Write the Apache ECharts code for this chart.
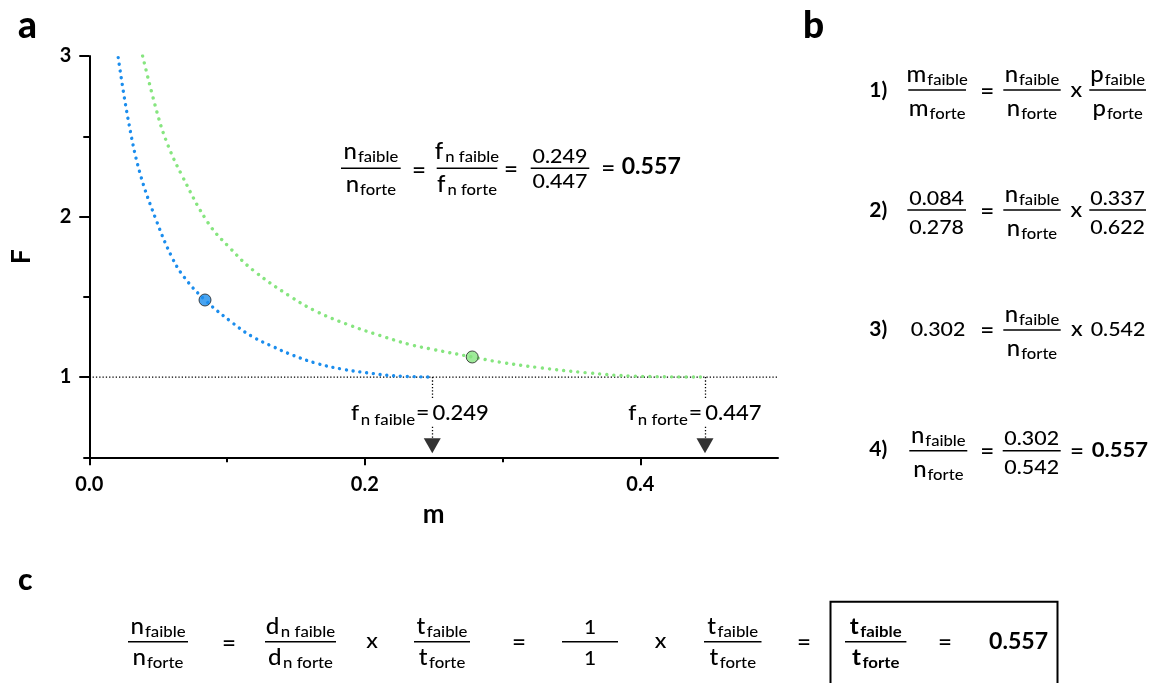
<!DOCTYPE html>
<html>
<head>
<meta charset="utf-8">
<script src="https://cdn.jsdelivr.net/npm/echarts@6/dist/echarts.min.js"></script>
<style>
  html, body { margin: 0; padding: 0; background: #fff; }
  #chart { width: 1155px; height: 683px; }
</style>
</head>
<body>
<div id="chart"></div>
<script>
// ---- Data ------------------------------------------------------------------
// Relative fitness F as a function of m, weak (faible) and strong (forte) allele
const curveFaible = [
  [0.021, 2.99], [0.0283, 2.60], [0.0368, 2.27], [0.0489, 1.97], [0.0598, 1.75],
  [0.0687, 1.624], [0.084, 1.48], [0.1045, 1.334], [0.1185, 1.251], [0.1335, 1.189],
  [0.148, 1.135], [0.165, 1.085], [0.1843, 1.048], [0.2012, 1.027], [0.2205, 1.008],
  [0.249, 1.0]
];
const curveForte = [
  [0.0387, 3.0], [0.0501, 2.62], [0.0573, 2.44], [0.067, 2.26], [0.0863, 1.96],
  [0.1021, 1.804], [0.119, 1.665], [0.1456, 1.504], [0.165, 1.408], [0.1867, 1.33],
  [0.2109, 1.259], [0.2326, 1.203], [0.2496, 1.172], [0.278, 1.125], [0.2979, 1.093],
  [0.327, 1.058], [0.3608, 1.027], [0.3946, 1.006], [0.447, 1.0]
];
const fnFaible = 0.249, fnForte = 0.447;      // F = 1 crossings
const mFaible = 0.084, mForte = 0.278;        // observed m
const pFaible = 0.337, pForte = 0.622;
const mRatio = 0.302, pRatio = 0.542, nRatio = 0.557;
const pointFaible = [mFaible, 1.48];
const pointForte = [mForte, 1.125];
const xTicksMajor = [0, 0.2, 0.4], xTicksMinor = [0.1, 0.3];
const yTicksMajor = [1, 2, 3], yTicksMinor = [0.5, 1.5, 2.5];

// ---- Styling -------------------------------------------------------------
const FAM = 'Lato, "Open Sans", sans-serif';
const BLUE = '#1b8ded', GREEN = '#86e57f';
const REG = 500;
const EQ = 23;                                 // size of "=" signs
const DROP_TOP = 0.869, GAP_TOP = 0.691, GAP_BOT = 0.620, ARROW_Y = 0.572;
const fmt = v => v.toFixed(3);

// ---- Text layout helpers (fractions, subscripts) ---------------------------
const ctx = document.createElement('canvas').getContext('2d');
function fnt(size, weight) { return weight + ' ' + size + 'px ' + FAM; }
function textW(t, size, weight) { ctx.font = fnt(size, weight); return ctx.measureText(t).width; }
function vMetrics(t, size, weight) {
  ctx.font = fnt(size, weight); ctx.textBaseline = 'middle';
  const m = ctx.measureText(t); ctx.textBaseline = 'alphabetic';
  return m;
}
function baseOff(size, weight) { return vMetrics('H', size, weight).actualBoundingBoxDescent; }

const G = [];
function piece(t, x, baseline, size, weight, sx) {
  G.push({
    type: 'text', x: x, y: baseline - baseOff(size, weight), scaleX: sx || 1, silent: true,
    style: { text: t, x: 0, y: 0, fontSize: size, fontWeight: weight, fontFamily: FAM,
             fill: '#000', align: 'left', verticalAlign: 'middle' }
  });
}
function runWidth(tokens, st) {
  let w = 0;
  tokens.forEach(tk => { const r = st[tk[1]]; w += (tk[2] || 0) + textW(tk[0], r.size, r.weight) * (r.sx || st.sx); });
  return w;
}
function drawRun(tokens, left, baseline, st) {
  let x = left;
  tokens.forEach(tk => {
    const r = st[tk[1]], sx = r.sx || st.sx;
    x += (tk[2] || 0);
    piece(tk[0], x, baseline + (r.dy || 0), r.size, r.weight, sx);
    x += textW(tk[0], r.size, r.weight) * sx;
  });
  return x;
}
function bar(x0, x1, y, w) {
  G.push({ type: 'line', silent: true, shape: { x1: x0, y1: y, x2: x1, y2: y },
           style: { stroke: '#000', lineWidth: w || 1.6 } });
}
function frac(x0, x1, y, num, den, st, kind) {
  bar(x0, x1, y);
  const cx = (x0 + x1) / 2, k = st[kind];
  drawRun(num, cx - runWidth(num, st) / 2, y - k.up, st);
  drawRun(den, cx - runWidth(den, st) / 2, y + k.down, st);
}
function glyphCentered(t, cx, cy, size, weight, sx) {
  const m = vMetrics(t, size, weight);
  const off = (m.actualBoundingBoxDescent - m.actualBoundingBoxAscent) / 2;
  const w = textW(t, size, weight) * sx;
  G.push({
    type: 'text', x: cx - w / 2, y: cy - off, scaleX: sx, silent: true,
    style: { text: t, x: 0, y: 0, fontSize: size, fontWeight: weight, fontFamily: FAM,
             fill: '#000', align: 'left', verticalAlign: 'middle' }
  });
}
function centeredAt(t, cx, baseline, size, weight, sx) {
  const w = textW(t, size, weight) * sx;
  piece(t, cx - w / 2, baseline, size, weight, sx);
}

// typography sets
const stA = { sx: 1.04,
  m: { size: 23, weight: REG }, s: { size: 16, weight: REG, dy: 3 },
  d: { size: 19.5, weight: REG, sx: 1.1 },
  L: { up: 9.3, down: 24 }, D: { up: 5, down: 20 } };
const stB = { sx: 1.04,
  m: { size: 23, weight: REG }, s: { size: 16, weight: REG, dy: 3 },
  d: { size: 20, weight: REG, sx: 1.07 },
  L: { up: 8, down: 26 }, D: { up: 5.5, down: 23.5 } };
const stC = { sx: 1.05,
  m: { size: 23, weight: REG }, s: { size: 16, weight: REG, dy: 3 },
  d: { size: 20, weight: REG },
  M: { size: 23, weight: 'bold' }, S: { size: 16, weight: 'bold', dy: 3 },
  L: { up: 7.7, down: 23.3 } };
const stL = { sx: 1.05,
  m: { size: 22, weight: REG }, s: { size: 16, weight: REG, dy: 5 } };

const nFa = [['n', 'm'], ['faible', 's', 1]];
const nFo = [['n', 'm'], ['forte', 's', 1]];

// ---- Chart ---------------------------------------------------------------
const axisText = { fontFamily: FAM, fontWeight: 'bold', color: '#000' };
const chart = echarts.init(document.getElementById('chart'), null, { renderer: 'canvas' });
chart.setOption({
  animation: false,
  backgroundColor: '#fff',
  grid: { left: 89.3, top: 56, width: 688.7, height: 401.3, containLabel: false, outerBoundsMode: 'none' },
  xAxis: [
    { type: 'value', min: 0, max: 0.5, position: 'bottom',
      name: 'm', nameLocation: 'middle', nameGap: 44,
      nameTextStyle: Object.assign({ fontSize: 26 }, axisText),
      axisLine: { show: true, onZero: false, lineStyle: { color: '#000', width: 2 } },
      axisTick: { show: true, customValues: xTicksMajor, length: 8, lineStyle: { color: '#000', width: 2 } },
      axisLabel: Object.assign({ customValues: xTicksMajor, formatter: v => v.toFixed(1), margin: 17, fontSize: 20 }, axisText),
      splitLine: { show: false } },
    { type: 'value', min: 0, max: 0.5, position: 'bottom',
      axisLine: { show: false },
      axisTick: { show: true, customValues: xTicksMinor, length: 5, lineStyle: { color: '#000', width: 2 } },
      axisLabel: { show: false }, splitLine: { show: false } }
  ],
  yAxis: [
    { type: 'value', min: 0.5, max: 3, position: 'left',
      name: 'F', nameLocation: 'middle', nameRotate: 90, nameGap: 55,
      nameTextStyle: Object.assign({ fontSize: 26 }, axisText),
      axisLine: { show: true, onZero: false, lineStyle: { color: '#000', width: 2 } },
      axisTick: { show: true, customValues: yTicksMajor, length: 10, lineStyle: { color: '#000', width: 2 } },
      axisLabel: Object.assign({ customValues: yTicksMajor, formatter: v => String(v), margin: 18, fontSize: 20 }, axisText),
      splitLine: { show: false } },
    { type: 'value', min: 0.5, max: 3, position: 'left',
      axisLine: { show: false },
      axisTick: { show: true, customValues: yTicksMinor, length: 6, lineStyle: { color: '#000', width: 2 } },
      axisLabel: { show: false }, splitLine: { show: false } }
  ],
  series: [
    { type: 'line', data: [[0, 1], [0.5, 1]], symbol: 'none', silent: true, z: 1,
      lineStyle: { color: '#000', width: 1.3, type: [1.3, 2] } },
    { type: 'line', name: 'faible', data: curveFaible, smooth: 0.4,
      symbol: 'none', silent: true, z: 3,
      lineStyle: { color: BLUE, width: 3.4, type: [0.01, 6.8], cap: 'round' } },
    { type: 'line', name: 'forte', data: curveForte, smooth: 0.4,
      symbol: 'none', silent: true, z: 3,
      lineStyle: { color: GREEN, width: 3.4, type: [0.01, 7.2], cap: 'round' } },
    { type: 'lines', coordinateSystem: 'cartesian2d', silent: true, z: 2,
      lineStyle: { color: '#000', width: 1.3, type: [1.3, 2], opacity: 1 },
      data: [
        { coords: [[fnFaible, 1], [fnFaible, DROP_TOP]] },
        { coords: [[fnFaible, GAP_TOP], [fnFaible, GAP_BOT]] },
        { coords: [[fnForte, 1], [fnForte, DROP_TOP]] },
        { coords: [[fnForte, GAP_TOP], [fnForte, GAP_BOT]] }
      ] },
    { type: 'scatter', data: [[fnFaible, ARROW_Y], [fnForte, ARROW_Y]], symbol: 'triangle',
      symbolRotate: 180, symbolSize: [17, 15], silent: true, z: 4, itemStyle: { color: '#000' } },
    { type: 'scatter', data: [pointFaible], symbolSize: 12, silent: true, z: 5,
      itemStyle: { color: BLUE, borderColor: '#222', borderWidth: 1 } },
    { type: 'scatter', data: [pointForte], symbolSize: 12, silent: true, z: 5,
      itemStyle: { color: GREEN, borderColor: '#222', borderWidth: 1 } }
  ]
});

// ---- Panel letters -------------------------------------------------------
piece('a', 18, 37.5, 37, 900, 1);
piece('b', 803, 37.5, 37, 900, 1);
piece('c', 18, 589.5, 30, 900, 1);

// ---- Panel a: ratio equation ----------------------------------------------
frac(341, 400.7, 168.3, nFa, nFo, stA, 'L');
glyphCentered('=', 419, 169.5, EQ, REG, 1.05);
frac(436.7, 497.3, 168.3, [['f', 'm'], ['n faible', 's', 2]], [['f', 'm'], ['n forte', 's', 2]], stA, 'L');
glyphCentered('=', 511, 168.5, EQ, REG, 1.05);
frac(530.7, 589.3, 168.3, [[fmt(fnFaible), 'd']], [[fmt(fnForte), 'd']], stA, 'D');
glyphCentered('=', 608.3, 168.3, EQ, REG, 1.05);
piece(fmt(nRatio), 621.7, 174.3, 22, 'bold', 1.05);

// drop-line labels, "=" sits just left of each drop line
function dropLabel(sub, value) {
  const lx = chart.convertToPixel({ xAxisIndex: 0 }, value);
  const eqW = textW('=', 22, REG) * stL.sx;
  const eqLeft = lx - 9.5 - eqW / 2;
  const before = [['f', 'm'], [sub, 's', 1.5]];
  drawRun(before, eqLeft - 1 - runWidth(before, stL), 420, stL);
  piece('=', eqLeft, 420, 22, REG, stL.sx);
  piece(fmt(value), eqLeft + eqW + 3, 420, 22, REG, 1.0);
}
dropLabel('n faible', fnFaible);
dropLabel('n forte', fnForte);

// ---- Panel b: steps 1-4 ----------------------------------------------------
const bLabel = (t, base) => piece(t, 869.3, base, 20, 'bold', 1.05);
// 1)
bLabel('1)', 96.7);
frac(908.3, 966, 90, [['m', 'm'], ['faible', 's', 1]], [['m', 'm'], ['forte', 's', 1]], stB, 'L');
glyphCentered('=', 987.2, 91, EQ, REG, 1.05);
frac(1003.3, 1060.7, 90, nFa, nFo, stB, 'L');
centeredAt('x', 1076.2, 96.7, 22, REG, 1.05);
frac(1089.3, 1146, 90, [['p', 'm'], ['faible', 's', 1]], [['p', 'm'], ['forte', 's', 1]], stB, 'L');
// 2)
bLabel('2)', 216.7);
frac(907.3, 966, 210, [[fmt(mFaible), 'd']], [[fmt(mForte), 'd']], stB, 'D');
glyphCentered('=', 987.2, 210.5, EQ, REG, 1.05);
frac(1003.3, 1060.7, 210, nFa, nFo, stB, 'L');
centeredAt('x', 1076.2, 216.7, 22, REG, 1.05);
frac(1089.3, 1146, 210, [[fmt(pFaible), 'd']], [[fmt(pForte), 'd']], stB, 'D');
// 3)
bLabel('3)', 336);
piece(fmt(mRatio), 910.7, 336, 20, REG, 1.07);
glyphCentered('=', 987.2, 330, EQ, REG, 1.05);
frac(1003.3, 1060.7, 330, nFa, nFo, stB, 'L');
centeredAt('x', 1076.7, 336, 22, REG, 1.05);
piece(fmt(pRatio), 1090.7, 336, 20, REG, 1.07);
// 4)
bLabel('4)', 456);
frac(909.3, 967.3, 450.7, nFa, nFo, stB, 'L');
glyphCentered('=', 987.2, 450.7, EQ, REG, 1.05);
frac(1002.7, 1060.7, 450.7, [[fmt(mRatio), 'd']], [[fmt(pRatio), 'd']], stB, 'D');
glyphCentered('=', 1077, 450.5, EQ, REG, 1.05);
piece(fmt(nRatio), 1091.7, 456.7, 21, 'bold', 1.05);

// ---- Panel c: decomposition ------------------------------------------------
frac(128, 188, 641.7, nFa, nFo, stC, 'L');
glyphCentered('=', 229, 642.5, EQ, REG, 1.05);
frac(265, 336, 641.7, [['d', 'm'], ['n faible', 's', 1.5]], [['d', 'm'], ['n forte', 's', 1.5]], stC, 'L');
centeredAt('x', 372, 648, 22, REG, 1.05);
frac(414, 470, 641.7, [['t', 'm'], ['faible', 's', 1.5]], [['t', 'm'], ['forte', 's', 1.5]], stC, 'L');
glyphCentered('=', 519, 642, EQ, REG, 1.05);
frac(562, 618, 641.7, [['1', 'd']], [['1', 'd']], stC, 'L');
centeredAt('x', 660.5, 648, 22, REG, 1.05);
frac(704, 761.5, 641.7, [['t', 'm'], ['faible', 's', 1.5]], [['t', 'm'], ['forte', 's', 1.5]], stC, 'L');
glyphCentered('=', 804, 641.7, EQ, REG, 1.05);
G.push({ type: 'rect', silent: true, shape: { x: 830.5, y: 601.7, width: 227, height: 100 },
         style: { fill: 'none', stroke: '#000', lineWidth: 2 } });
frac(845, 906.4, 641.7, [['t', 'M'], ['faible', 'S', 1.5]], [['t', 'M'], ['forte', 'S', 1.5]], stC, 'L');
glyphCentered('=', 945, 641.7, EQ, REG, 1.05);
piece(fmt(nRatio), 989, 649.3, 22, 'bold', 1.05);

chart.setOption({ graphic: { elements: G } });
</script>
</body>
</html>
